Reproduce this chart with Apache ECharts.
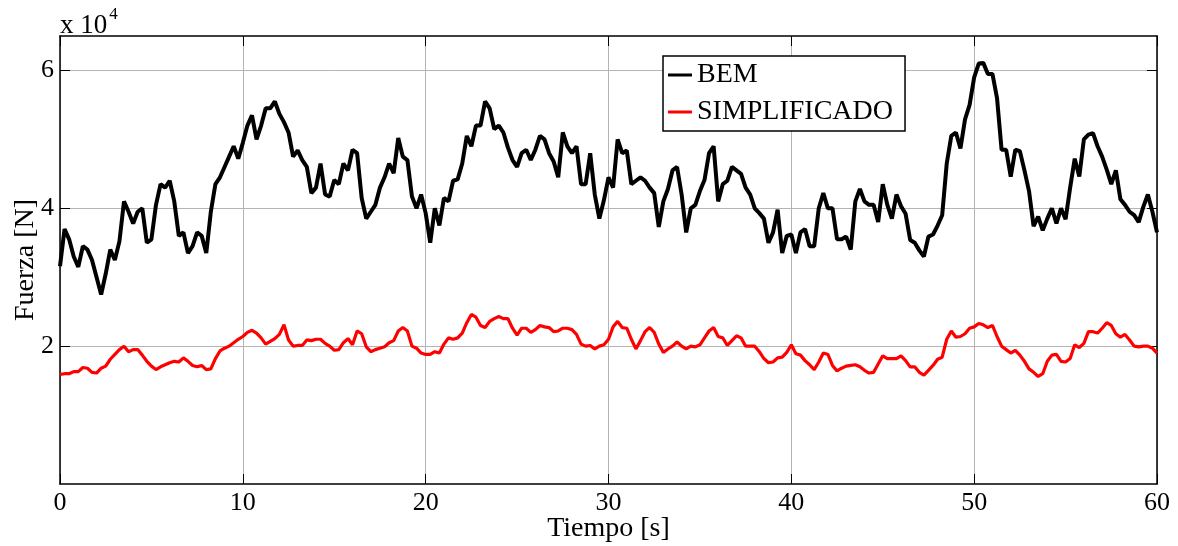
<!DOCTYPE html>
<html>
<head>
<meta charset="utf-8">
<script src="https://cdn.jsdelivr.net/npm/echarts@6/dist/echarts.min.js"></script>
<style>
html,body{margin:0;padding:0;background:#fff;}
#chart{width:1178px;height:546px;}
</style>
</head>
<body>
<div id="chart"></div>
<script>
const DT = 0.25;
const X_TICKS = [0, 10, 20, 30, 40, 50, 60];
const Y_TICKS = [2, 4, 6];
const SERIES_NAMES = ['BEM', 'SIMPLIFICADO'];
// Values in units of 10^4 N
const bem = [
3.16,3.7,3.55,3.3,3.15,3.45,3.4,3.25,3.0,2.75,
3.05,3.4,3.25,3.52,4.1,3.95,3.78,3.95,4.0,3.5,
3.55,4.05,4.35,4.3,4.4,4.1,3.6,3.65,3.35,3.45,
3.65,3.6,3.35,3.95,4.35,4.45,4.6,4.75,4.9,4.72,
4.95,5.2,5.35,5.0,5.2,5.45,5.45,5.55,5.37,5.25,
5.1,4.75,4.84,4.7,4.6,4.22,4.3,4.65,4.2,4.17,
4.41,4.35,4.65,4.55,4.85,4.8,4.15,3.85,3.95,4.05,
4.3,4.45,4.65,4.51,5.02,4.75,4.7,4.17,4.0,4.2,
3.93,3.5,4.0,3.75,4.15,4.1,4.4,4.42,4.65,5.05,
4.9,5.2,5.2,5.55,5.45,5.15,5.2,5.1,4.88,4.7,
4.6,4.8,4.85,4.7,4.85,5.05,5.0,4.8,4.68,4.45,
5.1,4.9,4.8,4.9,4.35,4.35,4.8,4.2,3.85,4.12,
4.45,4.3,5.0,4.8,4.84,4.35,4.4,4.45,4.4,4.3,
4.22,3.73,4.1,4.28,4.55,4.6,4.2,3.65,4.0,4.05,
4.25,4.41,4.8,4.9,4.1,4.35,4.4,4.6,4.55,4.5,
4.3,4.2,4.0,3.93,3.85,3.5,3.65,3.98,3.35,3.6,
3.62,3.35,3.65,3.7,3.45,3.45,4.0,4.22,4.0,4.0,
3.55,3.55,3.59,3.4,4.1,4.28,4.1,4.05,4.05,3.8,
4.35,4.05,3.85,4.2,4.03,3.92,3.54,3.5,3.39,3.3,
3.59,3.62,3.75,3.9,4.65,5.05,5.1,4.87,5.29,5.5,
5.9,6.1,6.11,5.95,5.95,5.6,4.85,4.85,4.46,4.85,
4.83,4.55,4.25,3.74,3.88,3.68,3.85,4.0,3.78,4.0,
3.84,4.3,4.72,4.46,5.0,5.07,5.09,4.9,4.75,4.56,
4.35,4.55,4.13,4.05,3.95,3.9,3.8,4.02,4.2,3.95,3.65
];
const simplificado = [
1.59,1.6,1.6,1.63,1.63,1.69,1.68,1.62,1.61,1.68,
1.71,1.81,1.88,1.95,2.0,1.92,1.95,1.95,1.87,1.78,
1.71,1.66,1.7,1.73,1.76,1.78,1.77,1.83,1.78,1.72,
1.7,1.72,1.66,1.67,1.82,1.93,1.97,2.0,2.05,2.1,
2.14,2.2,2.23,2.19,2.12,2.03,2.07,2.11,2.17,2.31,
2.09,2.0,2.01,2.01,2.09,2.08,2.1,2.1,2.04,2.0,
1.94,1.95,2.05,2.11,2.02,2.22,2.18,1.99,1.92,1.95,
1.97,1.99,2.05,2.08,2.22,2.27,2.22,2.0,1.97,1.9,
1.88,1.88,1.92,1.9,2.03,2.12,2.1,2.12,2.19,2.34,
2.46,2.42,2.3,2.27,2.36,2.4,2.43,2.4,2.4,2.26,
2.16,2.26,2.26,2.2,2.24,2.3,2.28,2.27,2.21,2.22,
2.26,2.26,2.24,2.17,2.03,2.0,2.01,1.96,2.0,2.02,
2.1,2.28,2.36,2.27,2.26,2.1,1.96,2.08,2.21,2.27,
2.2,2.03,1.91,1.96,2.0,2.06,2.0,1.96,2.0,1.99,
2.02,2.12,2.22,2.27,2.14,2.12,2.01,2.08,2.15,2.12,
2.0,2.0,2.0,1.92,1.82,1.76,1.77,1.83,1.84,1.91,
2.02,1.89,1.87,1.79,1.73,1.66,1.77,1.9,1.88,1.72,
1.64,1.68,1.71,1.72,1.73,1.7,1.65,1.61,1.62,1.74,
1.86,1.82,1.82,1.82,1.86,1.79,1.7,1.7,1.62,1.58,
1.65,1.72,1.81,1.84,2.1,2.22,2.13,2.14,2.18,2.26,
2.28,2.33,2.31,2.27,2.3,2.14,2.0,1.95,1.9,1.94,
1.87,1.78,1.67,1.62,1.56,1.6,1.78,1.87,1.88,1.78,
1.77,1.82,2.02,1.98,2.04,2.21,2.21,2.19,2.26,2.34,
2.3,2.18,2.13,2.17,2.09,2.0,1.99,2.0,2.0,1.97,1.9
];

const FONT = "'Liberation Serif','Times New Roman',serif";
const toPairs = arr => arr.map((v, i) => [i * DT, v]);
const yLabel = v => (Y_TICKS.indexOf(v) >= 0 ? String(v) : '');
const xLabel = v => (X_TICKS.indexOf(v) >= 0 ? String(v) : '');

const chart = echarts.init(document.getElementById('chart'), null, {renderer: 'canvas'});
const axisLineStyle = {color: '#000', width: 1.5};
const gridLine = {show: true, lineStyle: {color: '#b4b4b4', width: 1}};
const tickStyle = {show: true, inside: true, length: 10, lineStyle: {color: '#000', width: 1}};
const yTickStyle = {show: true, inside: true, length: 10, lineStyle: {color: '#000', width: 1},
  customValues: Y_TICKS};

chart.setOption({
  animation: false,
  backgroundColor: '#fff',
  grid: {left: 60, right: 21, top: 36, bottom: 62, containLabel: false, outerBoundsMode: 'none'},
  legend: {
    orient: 'vertical',
    left: 663, top: 56,
    data: SERIES_NAMES,
    icon: 'rect', itemWidth: 24, itemHeight: 3, itemGap: 9,
    padding: [5, 12, 5, 5],
    borderColor: '#000', borderWidth: 1.5, backgroundColor: '#fff',
    selectedMode: false,
    textStyle: {fontFamily: FONT, fontSize: 28, color: '#000'}
  },
  graphic: [{
    type: 'text', left: 60, top: 6,
    style: {
      text: '{a|x 10}{b|4}',
      rich: {
        a: {fontFamily: FONT, fontSize: 27, fill: '#000', verticalAlign: 'bottom', lineHeight: 30},
        b: {fontFamily: FONT, fontSize: 17, fill: '#000', verticalAlign: 'top', padding: [0, 0, 16, 2]}
      }
    }
  }],
  xAxis: [{
    type: 'value', min: 0, max: 60, interval: 10,
    name: 'Tiempo [s]', nameLocation: 'middle', nameGap: 31, nameMoveOverlap: false,
    nameTextStyle: {fontFamily: FONT, fontSize: 28, color: '#000'},
    axisLine: {show: true, onZero: false, lineStyle: axisLineStyle},
    axisTick: tickStyle,
    axisLabel: {fontFamily: FONT, fontSize: 26, color: '#000', margin: 6, formatter: xLabel},
    splitLine: gridLine
  }, {
    type: 'value', position: 'top', min: 0, max: 60, interval: 10,
    axisLine: {show: true, onZero: false, lineStyle: axisLineStyle},
    axisTick: tickStyle, axisLabel: {show: false}, splitLine: {show: false}
  }],
  yAxis: [{
    type: 'value', min: 0, max: 6.5, interval: 2,
    name: 'Fuerza [N]', nameLocation: 'middle', nameGap: 20, nameMoveOverlap: false,
    nameTextStyle: {fontFamily: FONT, fontSize: 28, color: '#000'},
    axisLine: {show: true, onZero: false, lineStyle: axisLineStyle},
    axisTick: yTickStyle,
    axisLabel: {fontFamily: FONT, fontSize: 26, color: '#000', margin: 6, formatter: yLabel},
    splitLine: gridLine
  }, {
    type: 'value', position: 'right', min: 0, max: 6.5, interval: 2,
    axisLine: {show: true, onZero: false, lineStyle: axisLineStyle},
    axisTick: yTickStyle, axisLabel: {show: false}, splitLine: {show: false}
  }],
  series: [{
    name: SERIES_NAMES[0], type: 'line', data: toPairs(bem),
    showSymbol: false, symbol: 'none', color: '#000',
    lineStyle: {color: '#000', width: 4}, z: 3
  }, {
    name: SERIES_NAMES[1], type: 'line', data: toPairs(simplificado),
    showSymbol: false, symbol: 'none', color: '#ff0000',
    lineStyle: {color: '#ff0000', width: 3.2}, z: 4
  }]
});
</script>
</body>
</html>
